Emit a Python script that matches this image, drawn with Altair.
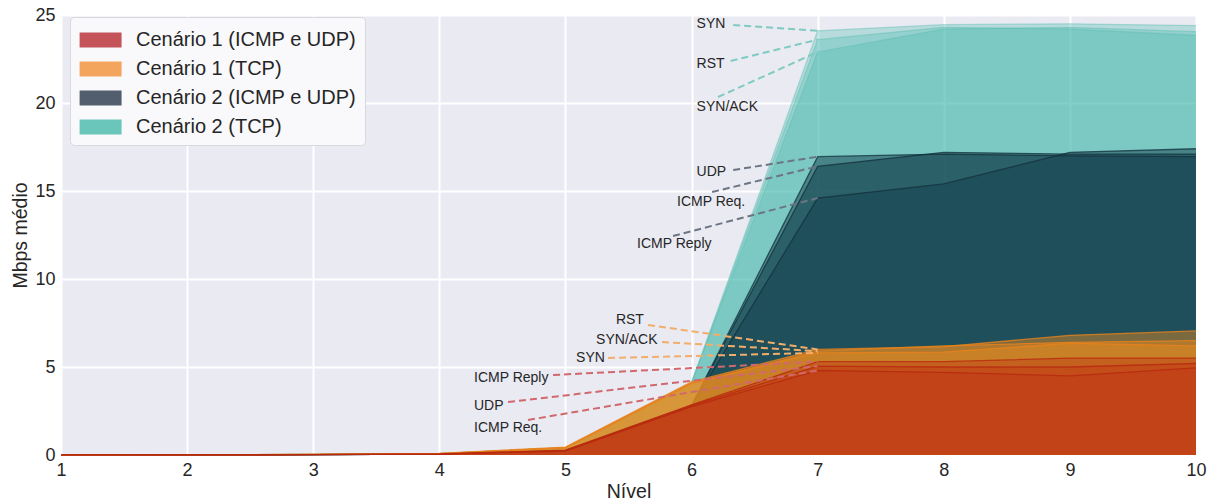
import altair as alt
import pandas as pd

# ---------------- data ----------------
niveis = [1, 2, 3, 4, 5, 6, 7, 8, 9, 10]

c1_icmp_req   = [0.01, 0.01, 0.02, 0.05, 0.22, 2.75, 4.80, 4.70, 4.50, 4.95]
c1_icmp_reply = [0.01, 0.01, 0.02, 0.06, 0.28, 2.85, 5.30, 5.30, 5.50, 5.50]
c1_udp        = [0.01, 0.01, 0.02, 0.05, 0.25, 2.80, 5.05, 5.00, 5.00, 5.20]
c1_syn        = [0.01, 0.02, 0.03, 0.08, 0.40, 4.10, 5.80, 5.85, 6.35, 6.20]
c1_synack     = [0.01, 0.02, 0.03, 0.08, 0.42, 4.05, 5.90, 6.20, 6.40, 6.50]
c1_rst        = [0.01, 0.02, 0.03, 0.09, 0.45, 4.15, 6.00, 6.15, 6.80, 7.05]

c2_icmp_req   = [0.01, 0.01, 0.02, 0.05, 0.25, 2.80, 16.40, 17.20, 17.10, 17.10]
c2_icmp_reply = [0.01, 0.01, 0.02, 0.05, 0.25, 2.80, 14.60, 15.40, 17.20, 17.40]
c2_udp        = [0.01, 0.01, 0.02, 0.05, 0.25, 2.80, 16.95, 17.10, 17.00, 16.95]
c2_syn        = [0.01, 0.02, 0.03, 0.08, 0.40, 4.10, 24.10, 24.45, 24.50, 24.40]
c2_synack     = [0.01, 0.02, 0.03, 0.08, 0.40, 4.10, 22.90, 24.20, 24.30, 24.05]
c2_rst        = [0.01, 0.02, 0.03, 0.08, 0.40, 4.10, 23.60, 24.30, 24.20, 23.85]

grupos = ["Cenário 1 (ICMP e UDP)", "Cenário 1 (TCP)",
          "Cenário 2 (ICMP e UDP)", "Cenário 2 (TCP)"]

series_def = [
    (grupos[0], "ICMP Req.", c1_icmp_req),
    (grupos[0], "ICMP Reply", c1_icmp_reply),
    (grupos[0], "UDP", c1_udp),
    (grupos[1], "SYN", c1_syn),
    (grupos[1], "SYN/ACK", c1_synack),
    (grupos[1], "RST", c1_rst),
    (grupos[2], "ICMP Req.", c2_icmp_req),
    (grupos[2], "ICMP Reply", c2_icmp_reply),
    (grupos[2], "UDP", c2_udp),
    (grupos[3], "SYN", c2_syn),
    (grupos[3], "SYN/ACK", c2_synack),
    (grupos[3], "RST", c2_rst),
]

# annotation label anchors (label x, label y, line start x, line start y)
anotacoes = [
    (grupos[3], "SYN",        6.04, 24.49, 6.33, 24.43),
    (grupos[3], "RST",        6.04, 22.20, 6.31, 22.39),
    (grupos[3], "SYN/ACK",    6.04, 19.77, 6.21, 20.34),
    (grupos[2], "UDP",        6.04, 16.08, 6.33, 16.19),
    (grupos[2], "ICMP Req.",  5.885, 14.38, 6.163, 14.94),
    (grupos[2], "ICMP Reply", 5.568, 11.99, 5.853, 12.44),
    (grupos[1], "RST",        5.40, 7.67, 5.655, 7.39),
    (grupos[1], "SYN/ACK",    5.243, 6.53, 5.766, 6.42),
    (grupos[1], "SYN",        5.084, 5.51, 5.338, 5.51),
    (grupos[0], "ICMP Reply", 4.275, 4.375, 4.902, 4.545),
    (grupos[0], "UDP",        4.275, 2.78, 4.545, 3.01),
    (grupos[0], "ICMP Req.",  4.275, 1.53, 4.703, 1.99),
]
nivel_alvo = 7

# ---------------- styles ----------------
estilo = {
    grupos[3]: dict(fill="#4ABAAD", op=0.32, line="#5DBFB2", lop=0.45, dash="#7FCBC2"),
    grupos[2]: dict(fill="#123D4B", op=0.50, line="#13303C", lop=0.75, dash="#6C7584"),
    grupos[1]: dict(fill="#EB8C1E", op=0.45, line="#E8821C", lop=0.8, dash="#F2AD6B"),
    grupos[0]: dict(fill="#C03413", op=0.42, line="#B8280F", lop=0.8, dash="#D1686E"),
}
cores_legenda = ["#C4545A", "#F3A55E", "#525E6E", "#6AC5BA"]

FONT = "Liberation Sans"
TXT = "#262626"

# ---------------- build tables ----------------
rows = []
for g, proto, vals in series_def:
    for x, v in zip(niveis, vals):
        rows.append({"grupo": g, "serie": g + " " + proto, "nivel": x, "mbps": v})
df = pd.DataFrame(rows)

ann_rows = []
for g, proto, tx, ty, lx, ly in anotacoes:
    vals = [v for gg, pp, v in series_def if gg == g and pp == proto][0]
    ann_rows.append({"grupo": g, "texto": proto, "nivel": tx, "mbps": ty,
                     "x1": lx, "y1": ly, "x2": nivel_alvo,
                     "y2": vals[niveis.index(nivel_alvo)]})
ann = pd.DataFrame(ann_rows)

xscale = alt.Scale(domain=[1, 10], nice=False, zero=False)
yscale = alt.Scale(domain=[0, 25], nice=False)
xaxis = alt.Axis(values=niveis, format="d", grid=True, gridColor="white", gridWidth=2,
                 domain=False, ticks=False, labelPadding=6, titlePadding=3,
                 labelFontSize=18, titleFontSize=19.5, labelFont=FONT, titleFont=FONT,
                 labelColor=TXT, titleColor=TXT, titleFontWeight="normal",
                 labelFlush=False)
yaxis = alt.Axis(values=[0, 5, 10, 15, 20, 25], format="d", grid=True, gridColor="white",
                 gridWidth=2, domain=False, ticks=False, labelPadding=6, titlePadding=4,
                 labelFontSize=18, titleFontSize=19.5, labelFont=FONT, titleFont=FONT,
                 labelColor=TXT, titleColor=TXT, titleFontWeight="normal",
                 labelFlush=False)

X = alt.X("nivel:Q", scale=xscale, axis=xaxis, title="Nível")
Y = alt.Y("mbps:Q", scale=yscale, axis=yaxis, title="Mbps médio", stack=None)

layers = []
for g in [grupos[3], grupos[2], grupos[1], grupos[0]]:
    s = estilo[g]
    sub = df[df["grupo"] == g]
    area = alt.Chart(sub).mark_area(color=s["fill"], fillOpacity=s["op"],
                                    interpolate="linear").encode(
        x=X, y=Y, detail="serie:N")
    line = alt.Chart(sub).mark_line(color=s["line"], strokeWidth=1.3,
                                    opacity=s["lop"]).encode(
        x=X, y=Y, detail="serie:N")
    layers += [area, line]

for g in grupos:
    s = estilo[g]
    sub = ann[ann["grupo"] == g]
    rule = alt.Chart(sub).mark_rule(color=s["dash"], strokeWidth=2,
                                    strokeDash=[7, 4]).encode(
        x=alt.X("x1:Q", scale=xscale, title="Nível"),
        y=alt.Y("y1:Q", scale=yscale, title="Mbps médio"),
        x2="x2:Q", y2="y2:Q")
    txt = alt.Chart(sub).mark_text(align="left", baseline="middle", font=FONT,
                                   fontSize=14, color=TXT).encode(
        x=X, y=Y, text="texto:N")
    layers += [rule, txt]

leg_df = pd.DataFrame({"grupo": grupos})
legenda = alt.Chart(leg_df).mark_rect().encode(
    x=alt.value(0), x2=alt.value(0), y=alt.value(0), y2=alt.value(0),
    color=alt.Color("grupo:N",
                    scale=alt.Scale(domain=grupos, range=cores_legenda),
                    legend=alt.Legend(
                        orient="none", legendX=9, legendY=2, title=" ",
                        titleFontSize=4, titlePadding=1,
                        symbolType="M-1,-0.893H4V0.893H-1Z", symbolSize=282,
                        symbolStrokeWidth=0, symbolOpacity=1,
                        labelFont=FONT, labelFontSize=20, labelColor=TXT,
                        labelOffset=38, rowPadding=9, padding=8,
                        fillColor="#F9F9FB", strokeColor="#D8D8DE",
                        cornerRadius=4, labelLimit=400)))
layers.append(legenda)

chart = alt.layer(*layers).properties(
    width=1135, height=440,
    autosize=alt.AutoSizeParams(type="none"),
    padding={"left": 61, "top": 15, "right": 18, "bottom": 47},
    background="white",
).configure_view(fill="#EAEAF2", stroke=None)

chart.save("out.html", embed_options={"renderer": "svg", "actions": False})
